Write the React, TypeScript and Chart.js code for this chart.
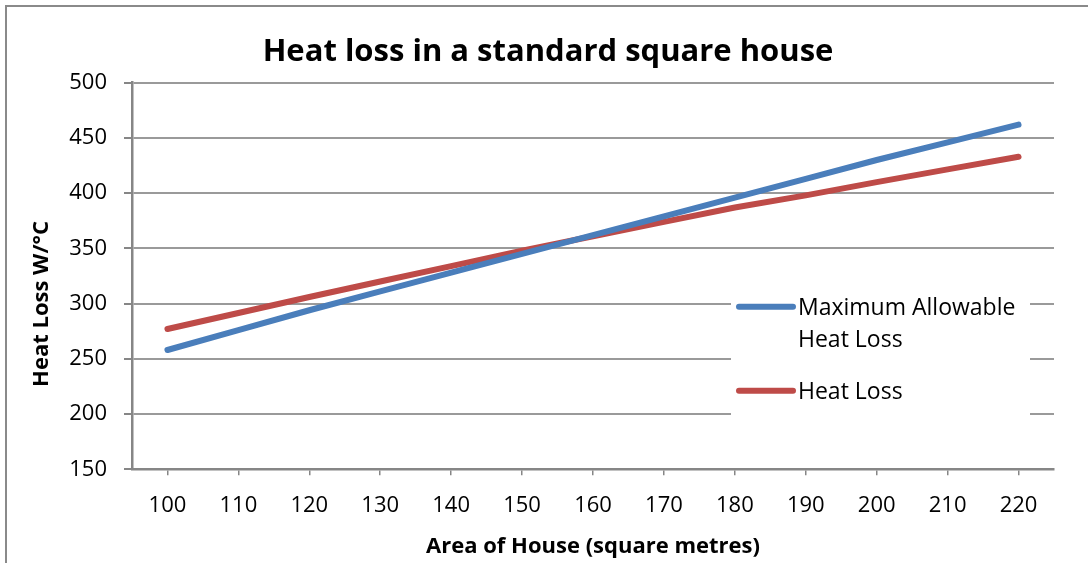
import React, { useEffect, useRef } from "react";
import { Chart, registerables } from "chart.js";

Chart.register(...registerables);

const chartTitle = "Heat loss in a standard square house";
const xAxisTitle = "Area of House (square metres)";
const yAxisTitle = "Heat Loss W/°C";
const areaCategories = ["100", "110", "120", "130", "140", "150", "160", "170", "180", "190", "200", "210", "220"];
const maxAllowableLabel = "Maximum Allowable Heat Loss";
const maxAllowableValues = [258, 276, 294, 311, 328, 345, 362, 379, 396, 413, 430, 446, 462];
const heatLossLabel = "Heat Loss";
const heatLossValues = [277, 291.5, 306, 320, 334, 348, 361, 374, 387, 398, 410, 421.5, 433];
const yMin = 150;
const yMax = 500;
const yStep = 50;

const FONT = "'Open Sans', Lato, sans-serif";
const BLUE = "#4A7EBB";
const RED = "#BE4B48";
const AXIS = "#868686";
const GRID = "#9a9a9a";

const framePlugin = {
  id: "frame",
  beforeDraw(chart: any) {
    const ctx = chart.ctx;
    ctx.save();
    ctx.fillStyle = "#fff";
    ctx.fillRect(0, 0, chart.width, chart.height);
    ctx.strokeStyle = "#8a8a8a";
    ctx.lineWidth = 2;
    ctx.beginPath();
    ctx.moveTo(6, chart.height + 5);
    ctx.lineTo(6, 6);
    ctx.lineTo(chart.width + 5, 6);
    ctx.stroke();
    ctx.restore();
  },
};

const overlayPlugin = {
  id: "overlay",
  afterDraw(chart: any) {
    const ctx = chart.ctx;
    const ca = chart.chartArea;
    ctx.save();
    ctx.fillStyle = "#000";
    // chart title
    ctx.font = `bold 31px ${FONT}`;
    ctx.textAlign = "center";
    ctx.textBaseline = "alphabetic";
    ctx.fillText(chartTitle, chart.width / 2 + 4, 61);
    // axis titles
    ctx.font = `bold 22px ${FONT}`;
    ctx.fillText(xAxisTitle, (ca.left + ca.right) / 2, ca.bottom + 84);
    ctx.translate(48, (ca.top + ca.bottom) / 2 + 28);
    ctx.rotate(-Math.PI / 2);
    ctx.fillText(yAxisTitle, 0, 0);
    ctx.restore();

    // legend inside plot area
    const boxL = ca.right - 323;
    const boxR = ca.right - 24;
    const boxT = ca.top + 202;
    const boxB = ca.top + 352;
    ctx.save();
    ctx.fillStyle = "#fff";
    ctx.fillRect(boxL, boxT, boxR - boxL, boxB - boxT);
    ctx.font = `23px ${FONT}`;
    ctx.textAlign = "left";
    ctx.textBaseline = "middle";
    const maxW = 240;
    let y = ca.top + 226;
    chart.data.datasets.forEach((ds: any) => {
      const words = String(ds.label).split(" ");
      const lines: string[] = [];
      let cur = "";
      words.forEach((w) => {
        const t = cur ? cur + " " + w : w;
        if (ctx.measureText(t).width > maxW && cur) {
          lines.push(cur);
          cur = w;
        } else cur = t;
      });
      if (cur) lines.push(cur);
      ctx.strokeStyle = ds.borderColor;
      ctx.lineWidth = 6;
      ctx.lineCap = "round";
      ctx.beginPath();
      ctx.moveTo(boxL + 8, y - 2);
      ctx.lineTo(boxL + 62, y - 2);
      ctx.stroke();
      ctx.fillStyle = "#000";
      lines.forEach((ln, i) => {
        ctx.fillText(ln, boxL + 67, y + i * 32);
      });
      y += (lines.length - 1) * 32 + 52;
    });
    ctx.restore();
  },
};

export default function App() {
  const ref = useRef<HTMLCanvasElement | null>(null);
  useEffect(() => {
    document.body.style.margin = "0";
    document.body.style.overflow = "hidden";
    if (!ref.current) return;
    const chart = new Chart(ref.current, {
      type: "line",
      data: {
        labels: areaCategories,
        datasets: [
          {
            label: maxAllowableLabel,
            data: maxAllowableValues,
            borderColor: BLUE,
            backgroundColor: BLUE,
            borderWidth: 6,
            pointRadius: 0,
            borderCapStyle: "round",
            tension: 0,
          },
          {
            label: heatLossLabel,
            data: heatLossValues,
            borderColor: RED,
            backgroundColor: RED,
            borderWidth: 6,
            pointRadius: 0,
            borderCapStyle: "round",
            tension: 0,
          },
        ],
      },
      options: {
        responsive: false,
        animation: false,
        devicePixelRatio: 1,
        layout: { padding: { left: 0, right: 34, top: 82.7, bottom: 0 } },
        plugins: {
          legend: { display: false },
          tooltip: { enabled: false },
          title: { display: false },
        },
        scales: {
          x: {
            type: "category",
            offset: true,
            grid: {
              offset: false,
              drawOnChartArea: false,
              drawTicks: true,
              tickLength: 6,
              color: AXIS,
              lineWidth: 1.5,
            },
            border: { color: AXIS, width: 2.5 },
            ticks: {
              color: "#000",
              font: { family: FONT, size: 22 },
              padding: 17,
              maxRotation: 0,
              autoSkip: false,
            },
            title: { display: false },
            afterFit: (s: any) => {
              s.height = 93.7;
            },
          },
          y: {
            min: yMin,
            max: yMax,
            grid: {
              color: GRID,
              lineWidth: 2,
              drawTicks: true,
              tickLength: 8,
              tickColor: AXIS,
            },
            border: { color: AXIS, width: 2.5 },
            ticks: {
              stepSize: yStep,
              color: "#000",
              font: { family: FONT, size: 22 },
              padding: 17,
            },
            afterFit: (s: any) => {
              s.width = 132;
            },
          },
        },
      },
      plugins: [framePlugin, overlayPlugin],
    });
    return () => chart.destroy();
  }, []);

  return (
    <div style={{ width: 1088, height: 563 }}>
      <canvas ref={ref} width={1088} height={563} style={{ display: "block" }} />
    </div>
  );
}
